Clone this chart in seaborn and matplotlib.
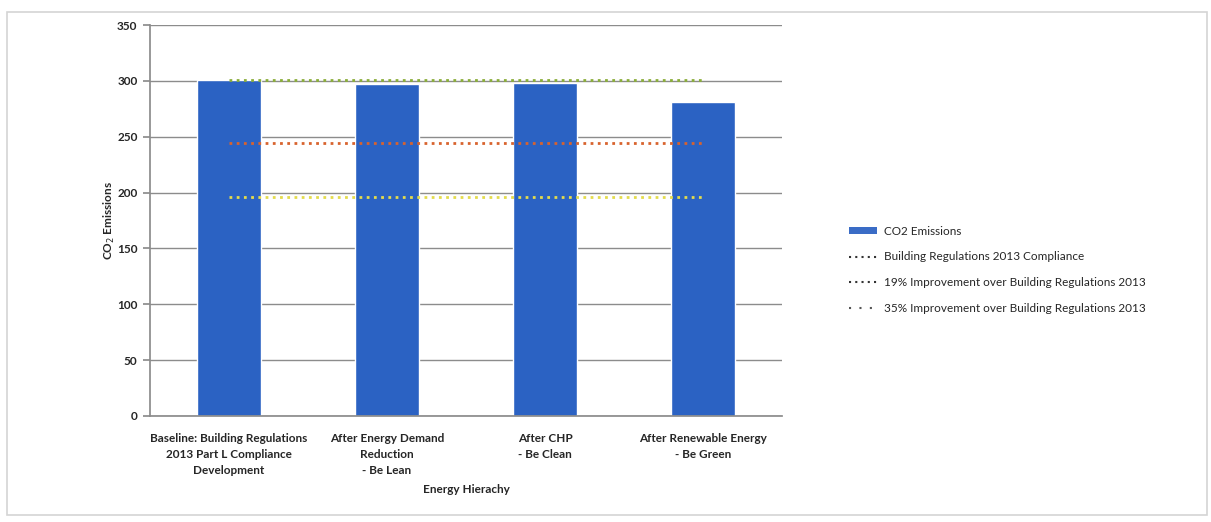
import numpy as np
import pandas as pd
import matplotlib
matplotlib.use("Agg")
import matplotlib.pyplot as plt
from matplotlib.lines import Line2D
from matplotlib.patches import Patch, Rectangle
import seaborn as sns

# Energy hierarchy stages and resulting CO2 emissions
categories = [
    "Baseline: Building Regulations\n2013 Part L Compliance\nDevelopment",
    "After Energy Demand\nReduction\n- Be Lean",
    "After CHP\n- Be Clean",
    "After Renewable Energy\n- Be Green",
]
emissions = [301, 297, 298, 281]

# Target levels drawn across the stages
compliance = [301, 301, 301, 301]
improve_19 = [244, 244, 244, 244]
improve_35 = [196, 196, 196, 196]

legend_labels = [
    "CO2 Emissions",
    "Building Regulations 2013 Compliance",
    "19% Improvement over Building Regulations 2013",
    "35% Improvement over Building Regulations 2013",
]
y_ticks = [0, 50, 100, 150, 200, 250, 300, 350]

sns.set_theme(style="white")
plt.rcParams["font.family"] = ["Lato", "DejaVu Sans"]

bar_color = "#2B62C3"
line_colors = ["#8BAE3A", "#D8632E", "#E4DC4C"]

fig = plt.figure(figsize=(12.11, 5.22), dpi=100)
fig.patch.set_facecolor("white")
fig.patches.append(Rectangle((7 / 1211, 7 / 522), 1200 / 1211, 503 / 522,
                             transform=fig.transFigure, fill=False,
                             edgecolor="#d4d4d4", linewidth=1.2))
ax = fig.add_axes([150 / 1211, 1 - 416 / 522, 632 / 1211, 391 / 522])

df = pd.DataFrame({"stage": categories, "co2": emissions})
sns.barplot(data=df, x="stage", y="co2", color=bar_color, width=0.4,
            saturation=1, ax=ax, zorder=2)

x = np.arange(len(categories))
for vals, col in zip([compliance, improve_19, improve_35], line_colors):
    sns.lineplot(x=x, y=vals, ax=ax, color=col, linewidth=2.0,
                 linestyle=(0, (1, 1.6)), zorder=3)

ax.set_xlim(-0.5, len(categories) - 0.5)
ax.set_ylim(0, 350)
ax.set_yticks(y_ticks)
ax.yaxis.grid(True, color="#8c8c8c", linewidth=1.0, zorder=0)
ax.set_axisbelow(True)

for s in ["top", "right"]:
    ax.spines[s].set_visible(False)
ax.spines["left"].set_color("#8c8c8c")
ax.spines["bottom"].set_color("#8c8c8c")
ax.tick_params(axis="y", left=True, length=5, color="#8c8c8c", pad=4,
               labelsize=8.5)
ax.tick_params(axis="x", bottom=False, pad=6, labelsize=8.5)
for lab in ax.get_yticklabels():
    lab.set_fontweight("bold")
for lab in ax.get_xticklabels():
    lab.set_fontweight("bold")
    lab.set_linespacing(1.55)

ax.set_xlabel("Energy Hierachy", fontsize=8.5, fontweight="bold", labelpad=6)
ax.set_ylabel("CO$_2$ Emissions", fontsize=8.5, fontweight="bold")
ax.yaxis.set_label_coords(-0.053, 0.5)

handles = [
    Patch(facecolor="#3A6CC6", edgecolor="none"),
    Line2D([], [], color="#333333", linewidth=1.5, linestyle=(0, (1, 2))),
    Line2D([], [], color="#333333", linewidth=1.5, linestyle=(0, (1, 2))),
    Line2D([], [], color="#555555", linewidth=1.5, linestyle=(0, (1, 4))),
]
fig.legend(handles, legend_labels, loc="upper left",
           bbox_to_anchor=(838 / 1211, 1 - 215 / 522), frameon=False,
           fontsize=8.5, handlelength=2.4, handleheight=0.5,
           labelspacing=1.25, handletextpad=0.6)

fig.savefig("out.png", dpi=100, facecolor="white")
